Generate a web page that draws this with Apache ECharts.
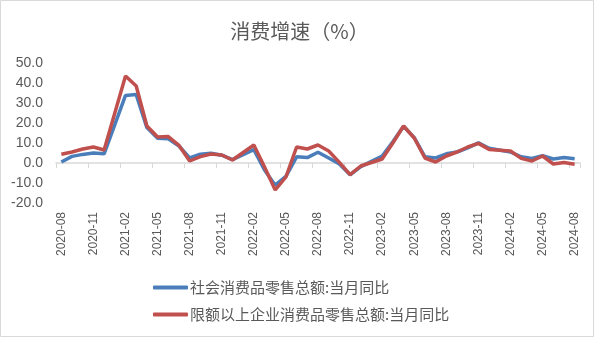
<!DOCTYPE html>
<html><head><meta charset="utf-8">
<script src="https://cdn.jsdelivr.net/npm/echarts@6/dist/echarts.min.js"></script>
<style>html,body{margin:0;padding:0;background:#fff}#c{width:599px;height:338px}</style>
</head><body><div id="c"></div>
<script>
const categories = ['2020-08','2020-09','2020-10','2020-11','2020-12','2021-01','2021-02','2021-03','2021-04','2021-05','2021-06','2021-07','2021-08','2021-09','2021-10','2021-11','2021-12','2022-01','2022-02','2022-03','2022-04','2022-05','2022-06','2022-07','2022-08','2022-09','2022-10','2022-11','2022-12','2023-01','2023-02','2023-03','2023-04','2023-05','2023-06','2023-07','2023-08','2023-09','2023-10','2023-11','2023-12','2024-01','2024-02','2024-03','2024-04','2024-05','2024-06','2024-07','2024-08'];
const totalRetail = [0.5,3.3,4.3,5.0,4.6,null,33.8,34.2,17.7,12.4,12.1,8.5,2.5,4.4,4.9,3.9,1.7,null,6.7,-3.5,-11.1,-6.7,3.1,2.7,5.4,2.5,-0.5,-5.9,-1.8,null,3.5,10.6,18.4,12.7,3.1,2.5,4.6,5.5,7.6,10.1,7.4,null,5.5,3.1,2.3,3.7,2.0,2.7,2.1];
const aboveLimit = [4.4,5.5,7.0,8.0,6.5,null,43.5,38.5,18.5,13.0,13.2,8.8,1.0,3.2,4.5,4.0,1.5,null,9.0,-2.0,-13.5,-7.0,8.0,7.0,9.0,6.0,0.3,-5.8,-1.5,null,2.0,10.0,18.5,12.5,2.5,0.5,3.5,5.5,8.0,9.8,6.8,null,6.0,2.3,1.0,3.5,-0.5,0.2,-0.6];
const seriesNames = ['社会消费品零售总额:当月同比','限额以上企业消费品零售总额:当月同比'];
const titleText = '消费增速（%）';

const chart = echarts.init(document.getElementById('c'), null, {renderer:'canvas'});
const gray = '#595959';
chart.setOption({
  animation:false,
  backgroundColor:'#fff',
  graphic:[{type:'rect',shape:{x:0.5,y:0.5,width:593,height:336},style:{fill:'none',stroke:'#d9d9d9',lineWidth:1},silent:true}],
  title:{text:titleText,left:'center',top:16,textStyle:{fontFamily:'Noto Sans CJK SC',fontSize:20,fontWeight:'normal',color:gray}},
  legend:{orient:'vertical',left:148,top:275,itemGap:12,itemWidth:35,itemHeight:4,icon:'roundRect',
    textStyle:{fontFamily:'Noto Sans CJK SC',fontSize:15,color:gray,padding:[0,0,0,-3]},data:seriesNames},
  grid:{left:56,right:19,top:63,bottom:135},
  xAxis:[{type:'category',data:categories,boundaryGap:true,
      axisLine:{onZero:true,lineStyle:{color:'#d9d9d9',width:1.5}},
      axisTick:{show:true,interval:2,length:5,lineStyle:{color:'#d9d9d9'}},
      axisLabel:{show:false}},
    {type:'category',data:categories,boundaryGap:true,position:'bottom',
      axisLine:{show:false,onZero:false},axisTick:{show:false},
      axisLabel:{interval:2,rotate:90,margin:9,fontFamily:'Liberation Sans',fontSize:12,color:gray}}],
  yAxis:{type:'value',min:-20,max:50,interval:10,splitLine:{show:false},axisLine:{show:false},axisTick:{show:false},
    axisLabel:{formatter:v=>v.toFixed(1),margin:13,fontFamily:'Liberation Sans',fontSize:14,color:gray}},
  series:[
    {name:seriesNames[0],type:'line',data:totalRetail,connectNulls:true,symbol:'none',xAxisIndex:0,
      lineStyle:{color:'#4a7ebb',width:3.5},itemStyle:{color:'#4a7ebb'}},
    {name:seriesNames[1],type:'line',data:aboveLimit,connectNulls:true,symbol:'none',xAxisIndex:0,
      lineStyle:{color:'#c0504d',width:3.5},itemStyle:{color:'#c0504d'}}
  ]
});
</script></body></html>
